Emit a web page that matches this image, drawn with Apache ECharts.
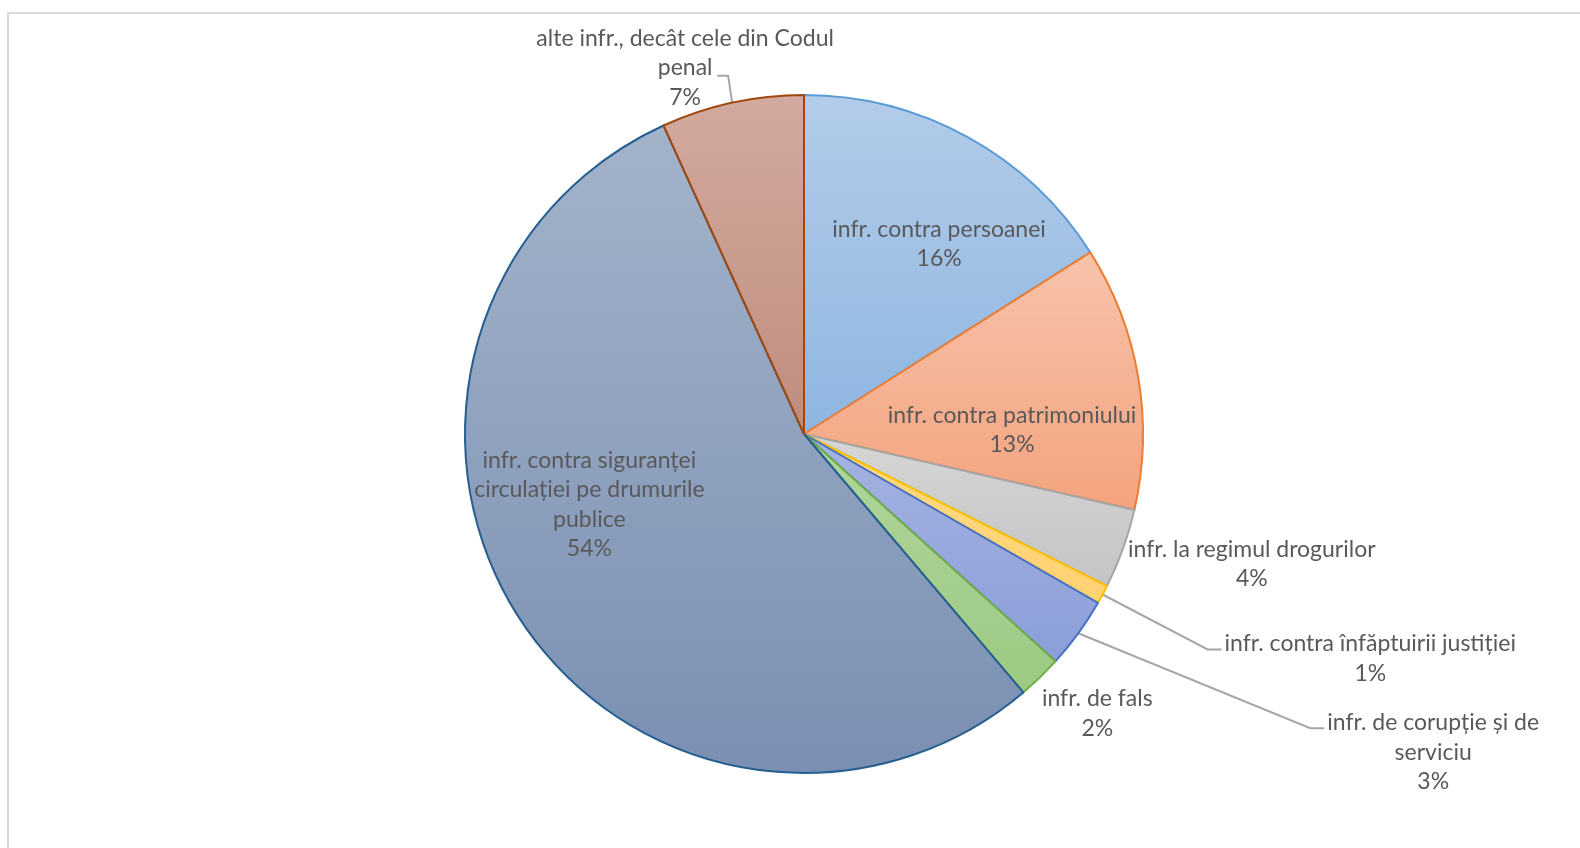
<!DOCTYPE html>
<html><head><meta charset="utf-8">
<script src="https://cdn.jsdelivr.net/npm/echarts@6/dist/echarts.min.js"></script>
<style>
html,body{margin:0;padding:0;background:#fff;width:1580px;height:848px;overflow:hidden}
#frame{position:absolute;left:7px;top:12px;width:1600px;height:900px;border-left:2px solid #d9d9d9;border-top:2px solid #d9d9d9;box-sizing:border-box}
#chart{position:absolute;left:0;top:0;width:1580px;height:848px}
</style></head><body>
<div id="frame"></div><div id="chart"></div>
<script>
// categories (full names)
const categories = [
  'infr. contra persoanei',
  'infr. contra patrimoniului',
  'infr. la regimul drogurilor',
  'infr. contra înfăptuirii justiției',
  'infr. de corupție și de serviciu',
  'infr. de fals',
  'infr. contra siguranței circulației pe drumurile publice',
  'alte infr., decât cele din Codul penal'
];
// label text as wrapped in the picture
const labelText = [
  'infr. contra persoanei',
  'infr. contra patrimoniului',
  'infr. la regimul drogurilor',
  'infr. contra înfăptuirii justiției',
  'infr. de corupție și de\nserviciu',
  'infr. de fals',
  'infr. contra siguranței\ncirculației pe drumurile\npublice',
  'alte infr., decât cele din Codul\npenal'
];
// shares (percent)
const values = [16.0, 12.6, 3.8, 0.9, 3.4, 2.1, 54.4, 6.8];

// palette
const fillTop    = ['#B3CCE9', '#F7C3AB', '#D6D6D6', '#FFDA85', '#A6B3E2', '#B1D69C', '#A3B3CA', '#D3AA9F'];
const fillBottom = ['#8EB6E1', '#F4A37E', '#C4C4C4', '#FFD272', '#8B9ED8', '#9CC983', '#7A8FB2', '#BF8C7E'];
const borders    = ['#5B9BD5', '#ED7D31', '#A5A5A5', '#FFC000', '#4472C4', '#70AD47', '#255E91', '#9E480E'];

const insideIdx = [0, 1, 6];
const hiddenLine = [2, 5];

// label placement tweaks (relative to library-computed positions)
const insideShift = {0: [52, -39], 1: [38, 25], 6: [-69, -22]};
const outsideSpec = {
  2: {lx: 5, cy: 15},
  3: {line: [105, 55, 14], lx: 3, cy: 64},
  4: {line: [232, 95, 14], lx: 3, cy: 119},
  5: {lx: 2, cy: 36},
  7: {line: [-4, -27, -11], cx: -47, cy: -35}
};

const data = categories.map((name, i) => ({
  name: name,
  value: values[i],
  itemStyle: {
    color: new echarts.graphic.LinearGradient(0, 0, 0, 1, [
      {offset: 0, color: fillTop[i]},
      {offset: 1, color: fillBottom[i]}
    ]),
    borderColor: borders[i],
    borderWidth: 2
  },
  label: {position: insideIdx.includes(i) ? 'inside' : 'outside'},
  labelLine: hiddenLine.includes(i) ? {show: true, lineStyle: {opacity: 0}} : {show: true}
}));

const chart = echarts.init(document.getElementById('chart'), null, {renderer: 'canvas'});
chart.setOption({
  animation: false,
  backgroundColor: 'transparent',
  series: [{
    type: 'pie',
    center: [804, 434],
    radius: 339,
    startAngle: 90,
    clockwise: true,
    avoidLabelOverlap: false,
    percentPrecision: 0,
    emphasis: {disabled: true},
    label: {
      color: '#595959',
      fontFamily: 'Lato',
      fontSize: 23,
      lineHeight: 29.5,
      formatter: p => labelText[p.dataIndex] + '\n' + Math.round(p.value) + '%'
    },
    labelLine: {length: 10, length2: 10, smooth: false, lineStyle: {color: '#A6A6A6', width: 2}},
    labelLayout: function (p) {
      const i = p.dataIndex;
      if (insideShift[i]) {
        return {dx: insideShift[i][0], dy: insideShift[i][1], align: 'center', verticalAlign: 'middle'};
      }
      const s = outsideSpec[i];
      const P0 = p.labelLinePoints[0];
      const w = p.labelRect.width;
      let pts;
      if (s.line) {
        const elbow = [P0[0] + s.line[0], P0[1] + s.line[1]];
        const end = [elbow[0] + s.line[2], elbow[1]];
        pts = [P0, elbow, end];
      } else {
        pts = [P0, P0, P0];
      }
      const x = s.cx != null ? P0[0] + s.cx : pts[2][0] + s.lx + w / 2;
      return {
        x: x,
        y: P0[1] + s.cy,
        align: 'center',
        verticalAlign: 'middle',
        labelLinePoints: pts
      };
    },
    data: data
  }]
});
</script>
</body></html>
